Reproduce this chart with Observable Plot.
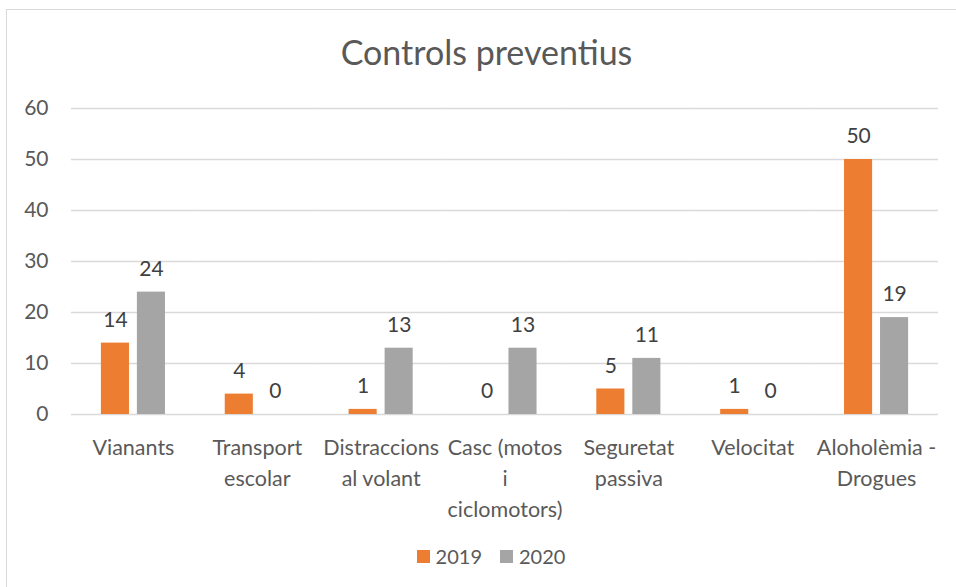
<!DOCTYPE html>
<html>
<head>
<meta charset="utf-8">
<script src="https://cdn.jsdelivr.net/npm/d3@7"></script>
<script src="https://cdn.jsdelivr.net/npm/@observablehq/plot@0.6"></script>
<style>
  html, body { margin: 0; padding: 0; background: #fff; overflow: hidden; width: 956px; height: 587px; }
  body { position: relative; font-family: Lato, "Open Sans", sans-serif; }
  #frame { position: absolute; left: 6px; top: 9px; width: 980px; height: 620px; border: 1px solid #D9D9D9; box-sizing: border-box; }
  #title { position: absolute; left: 7px; width: 959px; top: 35px; text-align: center; font-size: 34px; line-height: 1; color: #595959; }
  #chart { position: absolute; left: 0; top: 90px; }
  #legend { position: absolute; left: 7px; width: 968px; top: 543px; height: 26px; display: flex; justify-content: center; align-items: center; font-size: 20px; color: #595959; }
  .item { display: flex; align-items: center; margin: 0 9px; }
  .sw { width: 13px; height: 13px; margin-right: 6px; }
</style>
</head>
<body>
<div id="frame"></div>
<div id="title">Controls preventius</div>
<div id="chart"></div>
<div id="legend"></div>
<script>
const categories = ["Vianants", "Transport escolar", "Distraccions al volant", "Casc (motos i ciclomotors)", "Seguretat passiva", "Velocitat", "Aloholèmia - Drogues"];
const tickLabels = ["Vianants", "Transport\nescolar", "Distraccions\nal volant", "Casc (motos\ni\nciclomotors)", "Seguretat\npassiva", "Velocitat", "Aloholèmia -\nDrogues"];
const years = ["2019", "2020"];
const values2019 = [14, 4, 1, 0, 5, 1, 50];
const values2020 = [24, 0, 13, 13, 11, 0, 19];
const yTicks = [0, 10, 20, 30, 40, 50, 60];
const colors = ["#ED7D31", "#A5A5A5"];

const data = categories.flatMap((c, i) => [
  {cat: c, year: years[0], value: values2019[i]},
  {cat: c, year: years[1], value: values2020[i]}
]);

const chart = Plot.plot({
  width: 956,
  height: 430,
  marginLeft: 71,
  marginRight: 18,
  marginTop: 18,
  marginBottom: 106,
  style: {fontFamily: "Lato, 'Open Sans', sans-serif", fontSize: "21px", color: "#595959", background: "transparent", overflow: "visible"},
  fx: {domain: categories, padding: 0, label: null, round: false},
  x: {domain: years, paddingInner: 0.22, paddingOuter: 0.83, axis: null, round: false},
  y: {domain: [0, 60], ticks: yTicks, label: null},
  color: {domain: years, range: colors},
  marks: [
    Plot.gridY(yTicks, {stroke: "#D9D9D9", strokeOpacity: 1, strokeWidth: 1.3}),
    Plot.axisY(yTicks, {tickSize: 0, tickPadding: 23, label: null, fill: "#595959", fontSize: 21}),
    Plot.axisFx({anchor: "bottom", tickSize: 0, tickPadding: 19, label: null, fill: "#595959", fontSize: 21.5, lineHeight: 1.43,
      tickFormat: d => tickLabels[categories.indexOf(d)]}),
    Plot.barY(data, {fx: "cat", x: "year", y: "value", fill: "year"}),
    Plot.text(data, {fx: "cat", x: "year", y: "value", text: d => String(d.value), dy: -23, fill: "#404040", fontSize: 21})
  ]
});
document.getElementById("chart").appendChild(chart);

const legend = document.getElementById("legend");
years.forEach((y, i) => {
  const item = document.createElement("div");
  item.className = "item";
  const sw = document.createElement("div");
  sw.className = "sw";
  sw.style.background = colors[i];
  const t = document.createElement("span");
  t.textContent = y;
  item.appendChild(sw);
  item.appendChild(t);
  legend.appendChild(item);
});
</script>
</body>
</html>
